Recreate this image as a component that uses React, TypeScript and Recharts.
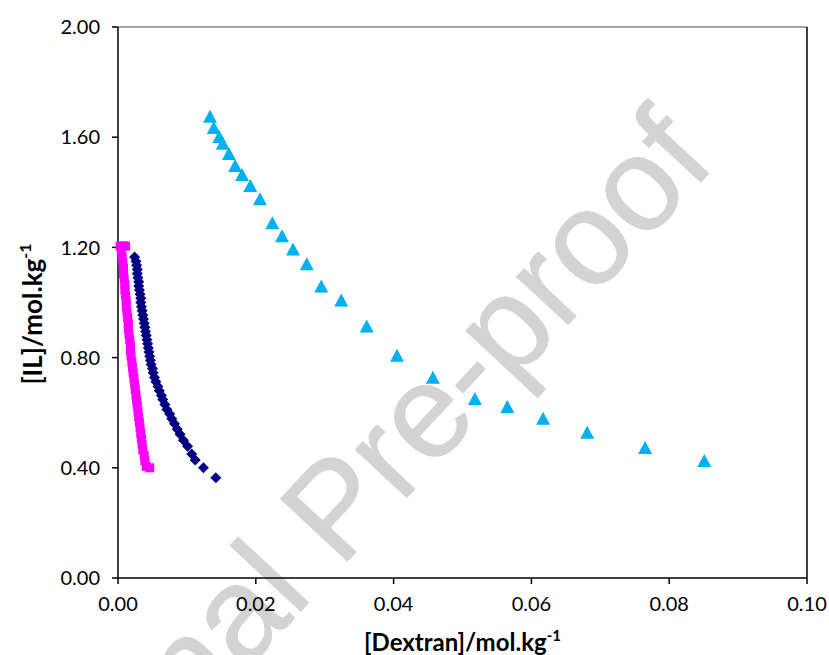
import React from 'react';
import { ScatterChart, Scatter, XAxis, YAxis, ReferenceLine, Label } from 'recharts';

// [Dextran] vs [IL], mol/kg, three systems
const cyanX = [0.01335, 0.0139, 0.0147, 0.0152, 0.0161, 0.017, 0.018, 0.0192, 0.0206, 0.0224, 0.0238, 0.0254, 0.0274, 0.0295, 0.0324, 0.0361, 0.0405, 0.0457, 0.0518, 0.0565, 0.0617, 0.0681, 0.0765, 0.0851];
const cyanY = [1.672, 1.632, 1.599, 1.574, 1.537, 1.494, 1.461, 1.421, 1.373, 1.286, 1.239, 1.191, 1.137, 1.056, 1.005, 0.911, 0.805, 0.725, 0.648, 0.619, 0.576, 0.525, 0.47, 0.423];

const navyX = [0.0024, 0.0026, 0.0027, 0.0028, 0.0028, 0.0029, 0.003, 0.003, 0.0031, 0.0032, 0.0033, 0.0033, 0.0034, 0.0035, 0.0036, 0.0037, 0.0038, 0.0039, 0.004, 0.0041, 0.0042, 0.0043, 0.0044, 0.0045, 0.0046, 0.0047, 0.0048, 0.005, 0.0051, 0.0053, 0.0055, 0.0058, 0.006, 0.0063, 0.0065, 0.0068, 0.0071, 0.0075, 0.0078, 0.0082, 0.0086, 0.009, 0.0095, 0.0101, 0.0107, 0.0112, 0.0124, 0.0142];
const navyY = [1.165, 1.15, 1.135, 1.12, 1.105, 1.09, 1.075, 1.06, 1.045, 1.03, 1.015, 1.0, 0.985, 0.97, 0.955, 0.94, 0.925, 0.91, 0.895, 0.88, 0.865, 0.85, 0.835, 0.82, 0.805, 0.79, 0.775, 0.76, 0.745, 0.728, 0.712, 0.695, 0.68, 0.662, 0.648, 0.63, 0.612, 0.595, 0.578, 0.56, 0.54, 0.522, 0.5, 0.478, 0.45, 0.428, 0.4, 0.364];

const pinkX = [0.0003, 0.0007, 0.0011, 0.0005, 0.0006, 0.0007, 0.0008, 0.0008, 0.0009, 0.001, 0.001, 0.0011, 0.0012, 0.0012, 0.0013, 0.0014, 0.0015, 0.0015, 0.0016, 0.0017, 0.0018, 0.0018, 0.0019, 0.002, 0.0021, 0.0022, 0.0023, 0.0024, 0.0025, 0.0026, 0.0027, 0.0028, 0.0029, 0.003, 0.0031, 0.0032, 0.0033, 0.0034, 0.0035, 0.0036, 0.0038, 0.0039, 0.0041, 0.0046];
const pinkY = [1.205, 1.205, 1.205, 1.185, 1.165, 1.145, 1.125, 1.105, 1.085, 1.065, 1.045, 1.025, 1.005, 0.985, 0.965, 0.945, 0.925, 0.905, 0.885, 0.865, 0.845, 0.825, 0.805, 0.785, 0.765, 0.745, 0.725, 0.705, 0.685, 0.665, 0.645, 0.625, 0.605, 0.585, 0.565, 0.545, 0.525, 0.505, 0.485, 0.465, 0.445, 0.425, 0.405, 0.4];

const xTicks = [0, 0.02, 0.04, 0.06, 0.08, 0.1];
const yTicks = [0, 0.4, 0.8, 1.2, 1.6, 2.0];

const zip = (xs: number[], ys: number[]) => xs.map((x, i) => ({ x, y: ys[i] }));

const FONT = 'Lato, "Open Sans", sans-serif';

const Triangle = (p: any) => (
  <polygon points={`${p.cx},${p.cy - 7.5} ${p.cx + 7},${p.cy + 5.5} ${p.cx - 7},${p.cy + 5.5}`} fill="#00B0F0" />
);
const Diamond = (p: any) => (
  <polygon points={`${p.cx},${p.cy - 5.5} ${p.cx + 5.5},${p.cy} ${p.cx},${p.cy + 5.5} ${p.cx - 5.5},${p.cy}`} fill="#000080" />
);
const Square = (p: any) => <rect x={p.cx - 4.5} y={p.cy - 4.5} width={9} height={9} fill="#FF00FF" />;

const XTitle = (props: any) => {
  const { x, y, width } = props.viewBox;
  return (
    <text x={x + width / 2} y={y + 73} textAnchor="middle" fontFamily={FONT} fontWeight="bold" fontSize={24} fill="#000">
      [Dextran]/mol.kg<tspan dy={-10} fontSize={15}>-1</tspan>
    </text>
  );
};

const YTitle = () => {
  const cx = 42;
  const cy = 314;
  return (
    <text x={cx} y={cy} transform={`rotate(-90 ${cx} ${cy})`} textAnchor="middle" fontFamily={FONT} fontWeight="bold" fontSize={26} fill="#000">
      [IL]/mol.kg<tspan dy={-11} fontSize={16}>-1</tspan>
    </text>
  );
};

export default function App() {
  return (
    <div style={{ position: 'absolute', left: 0, top: 0, width: 829, height: 655, background: '#fff', overflow: 'hidden' }}>
      <svg width={829} height={655} style={{ position: 'absolute', left: 0, top: 0 }}>
        <text
          x={334}
          y={508}
          transform="rotate(-47 334 508)"
          textAnchor="middle"
          dominantBaseline="central"
          fontFamily='"Liberation Sans", Arial, sans-serif'
          fontSize={133}
          fill="#d3d3d3"
          stroke="#d3d3d3"
          strokeWidth={1}
        >
          Journal Pre-proof
        </text>
      </svg>
      <div style={{ position: 'absolute', left: 0, top: 0 }}>
        <ScatterChart width={829} height={655} margin={{ top: 27, right: 22, bottom: 47, left: 58 }}>
          <XAxis
            type="number"
            dataKey="x"
            domain={[0, 0.1]}
            ticks={xTicks}
            tickFormatter={(v: number) => v.toFixed(2)}
            height={30}
            axisLine={{ stroke: '#000', strokeWidth: 1.5 }}
            tickLine={{ stroke: '#000', strokeWidth: 1.5 }}
            tickSize={6}
            tickMargin={13}
            tick={{ fill: '#000', fontSize: 20, fontFamily: FONT }}
          >
            <Label content={XTitle} />
          </XAxis>
          <YAxis
            type="number"
            dataKey="y"
            domain={[0, 2]}
            ticks={yTicks}
            tickFormatter={(v: number) => v.toFixed(2)}
            width={60}
            axisLine={{ stroke: '#000', strokeWidth: 1.5 }}
            tickLine={{ stroke: '#000', strokeWidth: 1.5 }}
            tickSize={6}
            tickMargin={12}
            tick={{ fill: '#000', fontSize: 20, fontFamily: FONT }}
          >
            <Label content={YTitle} />
          </YAxis>
          <ReferenceLine y={2} stroke="#898989" strokeWidth={1.5} />
          <ReferenceLine x={0.1} stroke="#000" strokeWidth={1.5} />
          <Scatter data={zip(cyanX, cyanY)} shape={Triangle} isAnimationActive={false} />
          <Scatter data={zip(navyX, navyY)} shape={Diamond} isAnimationActive={false} />
          <Scatter data={zip(pinkX, pinkY)} shape={Square} isAnimationActive={false} />
        </ScatterChart>
      </div>
    </div>
  );
}
